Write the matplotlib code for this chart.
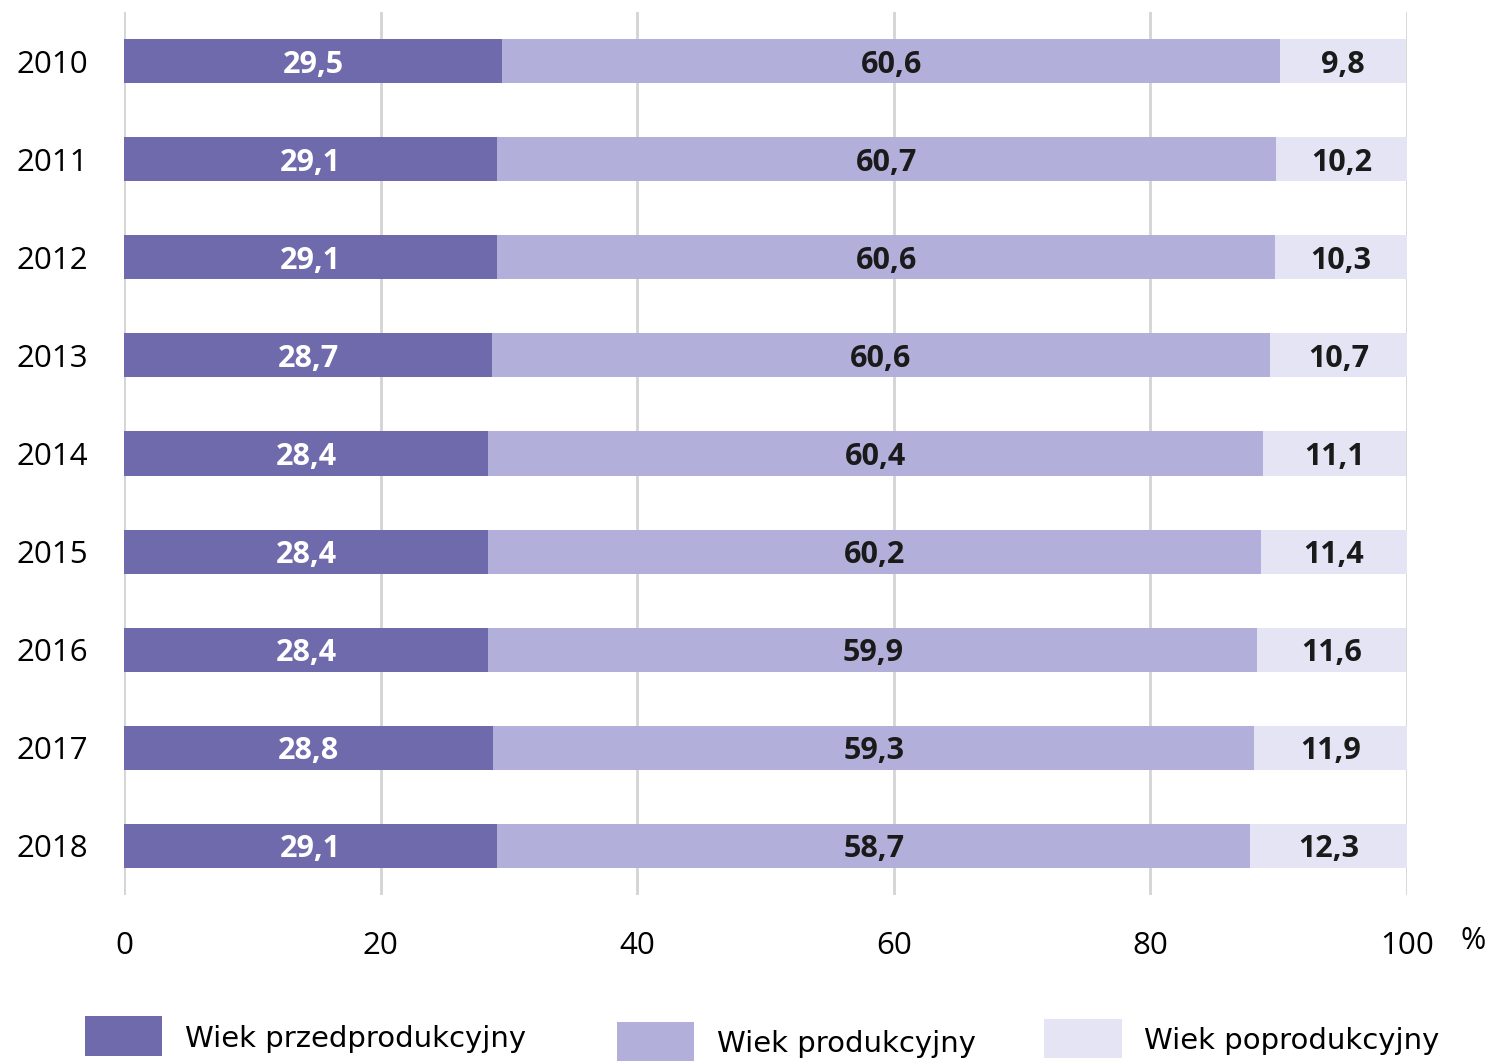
import matplotlib.pyplot as plt
from matplotlib.patches import Rectangle

plt.rcParams['font.family'] = ['Open Sans', 'DejaVu Sans']

# dane
lata = ['2010', '2011', '2012', '2013', '2014', '2015', '2016', '2017', '2018']
przedprodukcyjny = [29.5, 29.1, 29.1, 28.7, 28.4, 28.4, 28.4, 28.8, 29.1]
produkcyjny = [60.6, 60.7, 60.6, 60.6, 60.4, 60.2, 59.9, 59.3, 58.7]
poprodukcyjny = [9.8, 10.2, 10.3, 10.7, 11.1, 11.4, 11.6, 11.9, 12.3]
nazwy = ['Wiek przedprodukcyjny', 'Wiek produkcyjny', 'Wiek poprodukcyjny']
kolory = ['#6f6aab', '#b2afda', '#e5e4f4']
kolory_tekstu = ['white', '#1a1a1a', '#1a1a1a']
x_ticks = [0, 20, 40, 60, 80, 100]

fig = plt.figure(figsize=(14.9, 10.61), dpi=100)
ax = fig.add_axes([0.0832, 0.1565, 0.8611, 0.8322])

y = list(range(len(lata)))
left = [0.0] * len(lata)
for serie, kol, kt in zip([przedprodukcyjny, produkcyjny, poprodukcyjny], kolory, kolory_tekstu):
    bars = ax.barh(y, serie, left=left, height=0.45, color=kol, zorder=3)
    labels = [('%.1f' % v).replace('.', ',') for v in serie]
    txts = ax.bar_label(bars, labels=labels, label_type='center', color=kt,
                        fontsize=22, fontweight='bold')
    for t in txts:
        t.set_verticalalignment('center_baseline')
    left = [a + b for a, b in zip(left, serie)]

ax.set_xlim(0, 100)
ax.set_ylim(8.5, -0.5)
ax.set_yticks(y)
ax.set_yticklabels(lata, fontsize=22.5)
ax.set_xticks(x_ticks)
ax.set_xticklabels([str(t) for t in x_ticks], fontsize=22.5)
ax.tick_params(axis='y', length=0, pad=26)
ax.tick_params(axis='x', length=0, pad=26)
for s in ax.spines.values():
    s.set_visible(False)
ax.grid(axis='x', color='#d4d4d4', linewidth=2, zorder=0)
ax.set_axisbelow(True)

fig.text(0.997, 0.113, '%', fontsize=22, ha='right', va='center')

# legenda
leg_x = [0.057, 0.414, 0.701]
leg_y = [0.005, 0.0, 0.003]
for nx, ny, kol, nazwa in zip(leg_x, leg_y, kolory, nazwy):
    fig.add_artist(Rectangle((nx, ny), 0.052, 0.037, transform=fig.transFigure,
                             facecolor=kol, edgecolor='none'))
    fig.text(nx + 0.067, ny + 0.016, nazwa, fontsize=21, va='center',
             family=['Liberation Sans Narrow', 'DejaVu Sans'])

fig.savefig('out.png', dpi=100)
